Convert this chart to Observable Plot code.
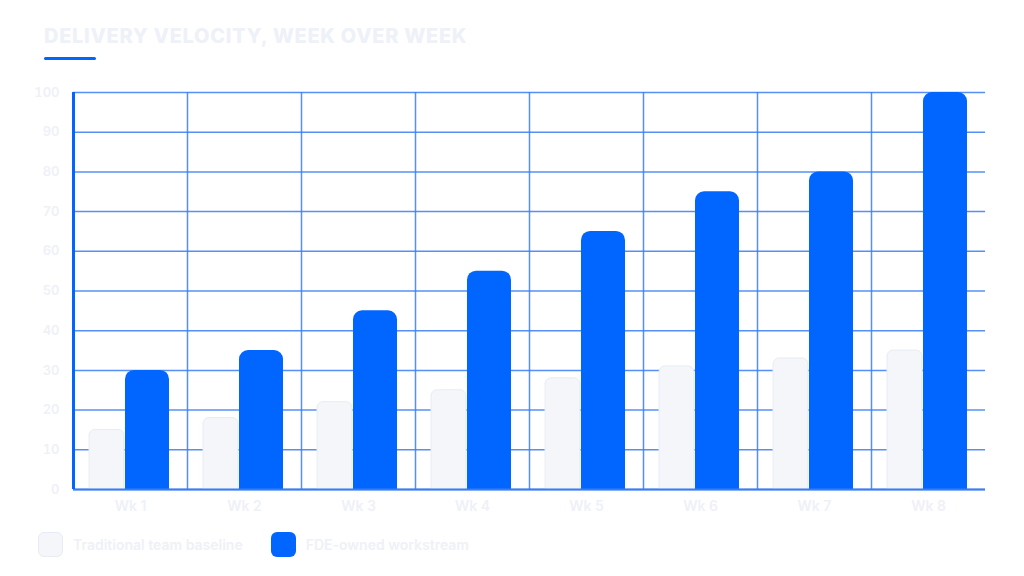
<!DOCTYPE html>
<html><head><meta charset="utf-8">
<script src="https://cdn.jsdelivr.net/npm/d3@7"></script>
<script src="https://cdn.jsdelivr.net/npm/@observablehq/plot@0.6"></script>
<style>
body{margin:0;background:#fff;font-family:Inter,"Noto Sans",sans-serif;}
#wrap{position:relative;width:1024px;height:576px;overflow:hidden;background:#fff;}
#title{position:absolute;left:44px;top:24px;font-size:20px;font-weight:800;color:#eef1f7;letter-spacing:0.7px;white-space:nowrap;}
#bar{position:absolute;left:44px;top:57px;width:52px;height:3px;background:#0066ff;border-radius:2px;}
#chart{position:absolute;left:0;top:0;}
#legend{position:absolute;left:38px;top:532px;display:flex;align-items:center;font-size:14px;font-weight:600;color:#eef1f7;white-space:nowrap;}
.sw{width:25px;height:25px;border-radius:6px;margin-right:10px;box-sizing:border-box;}
.item{display:flex;align-items:center;margin-right:28px;}
</style></head>
<body>
<div id="wrap">
  <div id="title">DELIVERY VELOCITY, WEEK OVER WEEK</div>
  <div id="bar"></div>
  <div id="chart"></div>
  <div id="legend"></div>
</div>
<script>
const weeks = ["Wk 1","Wk 2","Wk 3","Wk 4","Wk 5","Wk 6","Wk 7","Wk 8"];
const baseline = [15, 18, 22, 25, 28, 31, 33, 35];
const fde = [30, 35, 45, 55, 65, 75, 80, 100];
const yTicks = [0,10,20,30,40,50,60,70,80,90,100];
const seriesNames = ["Traditional team baseline", "FDE-owned workstream"];

const blue = "#0066ff";
const grid = "#3a7cf2";
const textCol = "#eef1f7";
const baseFill = "#f4f6fa";
const baseStroke = "#e7ecf4";

const baseRows = weeks.map((w, i) => ({week: w, value: baseline[i]}));
const fdeRows = weeks.map((w, i) => ({week: w, value: fde[i]}));

const chart = Plot.plot({
  width: 1024,
  height: 520,
  marginTop: 92,
  marginBottom: 31,
  marginLeft: 70,
  marginRight: 36,
  style: {background: "transparent", fontFamily: "Inter, 'Noto Sans', sans-serif"},
  fx: {domain: weeks, padding: 0, label: null},
  x: {domain: [0, 1], axis: null},
  y: {domain: [0, 100], label: null},
  marks: [
    Plot.gridY(yTicks, {stroke: grid, strokeOpacity: 0.85, strokeWidth: 1.5}),
    Plot.ruleX([0], {stroke: grid, strokeOpacity: 0.85, strokeWidth: 1.5}),
    Plot.barY(baseRows, {fx: "week", y: "value", fill: baseFill, stroke: baseStroke, strokeWidth: 1, insetLeft: 16, insetRight: 63, ry1: 6}),
    Plot.barY(fdeRows, {fx: "week", y: "value", fill: blue, insetLeft: 52, insetRight: 18, ry1: 9}),
    Plot.ruleY([0], {stroke: grid, strokeWidth: 2}),
    Plot.ruleX([weeks[0]], {fx: d => d, x: () => 0, stroke: blue, strokeWidth: 3}),
    Plot.axisY(yTicks, {tickSize: 0, tickPadding: 14, fontSize: 13, fontWeight: 600, fill: textCol, label: null}),
    Plot.axisFx({anchor: "bottom", tickSize: 0, tickPadding: 12, fontSize: 14, fontWeight: 600, fill: textCol, label: null})
  ]
});
document.getElementById("chart").appendChild(chart);

const legend = document.getElementById("legend");
const swatches = [{fill: baseFill, border: "1px solid " + baseStroke}, {fill: blue, border: "none"}];
seriesNames.forEach((name, i) => {
  const item = document.createElement("div");
  item.className = "item";
  const sw = document.createElement("div");
  sw.className = "sw";
  sw.style.background = swatches[i].fill;
  sw.style.border = swatches[i].border;
  const t = document.createElement("span");
  t.textContent = name;
  item.appendChild(sw);
  item.appendChild(t);
  legend.appendChild(item);
});
</script>
</body></html>
